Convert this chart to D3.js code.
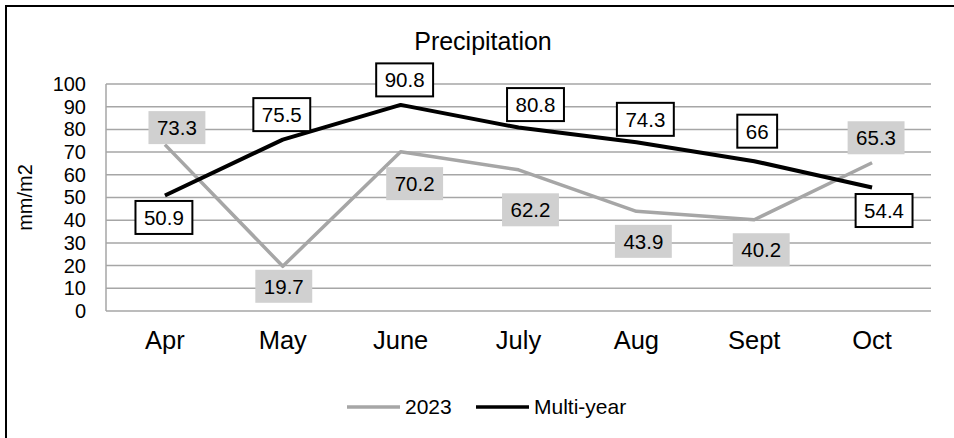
<!DOCTYPE html>
<html>
<head>
<meta charset="utf-8">
<script src="https://cdn.jsdelivr.net/npm/d3@7"></script>
<style>
  html, body { margin: 0; padding: 0; background: #fff; }
  svg { display: block; font-family: "Liberation Sans", Arial, sans-serif; }
</style>
</head>
<body>
<svg id="chart" width="954" height="438"></svg>
<script>
// Monthly precipitation, mm/m2
const months = ["Apr", "May", "June", "July", "Aug", "Sept", "Oct"];
const values2023 = [73.3, 19.7, 70.2, 62.2, 43.9, 40.2, 65.3];
const valuesMultiYear = [50.9, 75.5, 90.8, 80.8, 74.3, 66, 54.4];
const yTicks = [0, 10, 20, 30, 40, 50, 60, 70, 80, 90, 100];
const seriesNames = ["2023", "Multi-year"];

// Label placement (box centre offset from its point, in px)
const nudge2023 = [[12, -17], [1, 20], [14, 32], [12, 40], [7, 30], [7, 30], [4, -25]];
const nudgeMulti = [[-1, 22], [-1, -25], [4, -25], [17, -23], [9, -23], [3, -30], [12, 23]];

const svg = d3.select("#chart");
const plot = { left: 106, right: 931, top: 84, bottom: 311 };

const x = d3.scaleBand().domain(months).range([plot.left, plot.right]);
const y = d3.scaleLinear().domain([0, 100]).range([plot.bottom, plot.top]);
const cx = m => x(m) + x.bandwidth() / 2;

// outer frame (left and top edges)
svg.append("path")
  .attr("d", `M6,438 V6 H954`)
  .attr("fill", "none").attr("stroke", "#000").attr("stroke-width", 2);

// title
svg.append("text").attr("x", 483).attr("y", 50)
  .attr("text-anchor", "middle").attr("font-size", 25).attr("fill", "#000")
  .text("Precipitation");

// gridlines
const grid = svg.append("g");
grid.selectAll("line").data(yTicks).join("line")
  .attr("x1", plot.left).attr("x2", plot.right)
  .attr("y1", d => y(d)).attr("y2", d => y(d))
  .attr("stroke", "#a6a6a6").attr("stroke-width", 1.5);
grid.append("line")
  .attr("x1", plot.left).attr("x2", plot.left)
  .attr("y1", y(100)).attr("y2", y(0))
  .attr("stroke", "#a6a6a6").attr("stroke-width", 1.5);

// y axis
const yAxis = svg.append("g").attr("transform", `translate(${plot.left},0)`)
  .call(d3.axisLeft(y).tickValues(yTicks).tickSize(0).tickPadding(20));
yAxis.select(".domain").remove();
yAxis.selectAll("text").attr("font-size", 20).attr("fill", "#000")
  .attr("font-family", "Liberation Sans, Arial, sans-serif");

// x axis
const xAxis = svg.append("g").attr("transform", `translate(0,${plot.bottom})`)
  .call(d3.axisBottom(x).tickSize(0).tickPadding(20));
xAxis.select(".domain").remove();
xAxis.selectAll("text").attr("font-size", 25.5).attr("fill", "#000")
  .attr("font-family", "Liberation Sans, Arial, sans-serif");

// y axis title
svg.append("text")
  .attr("transform", `translate(32,${(plot.top + plot.bottom) / 2}) rotate(-90)`)
  .attr("text-anchor", "middle").attr("font-size", 20).attr("fill", "#000")
  .text("mm/m2");

// lines
const line = d3.line().x((d, i) => cx(months[i])).y(d => y(d));
svg.append("path").datum(values2023).attr("d", line)
  .attr("fill", "none").attr("stroke", "#a6a6a6").attr("stroke-width", 3.5)
  .attr("stroke-linejoin", "round");
svg.append("path").datum(valuesMultiYear).attr("d", line)
  .attr("fill", "none").attr("stroke", "#000").attr("stroke-width", 4)
  .attr("stroke-linejoin", "round");

// data labels
function drawLabels(values, nudges, fill, stroke) {
  const g = svg.append("g");
  values.forEach((v, i) => {
    const px = cx(months[i]) + nudges[i][0];
    const py = y(v) + nudges[i][1];
    const t = g.append("text").attr("x", px).attr("y", py)
      .attr("text-anchor", "middle").attr("dominant-baseline", "central")
      .attr("font-size", 20.5).attr("fill", "#000").text(v);
    const w = t.node().getComputedTextLength() + 17;
    const h = 33;
    g.insert("rect", "text")
      .attr("x", px - w / 2).attr("y", py - h / 2)
      .attr("width", w).attr("height", h)
      .attr("fill", fill)
      .attr("stroke", stroke || "none").attr("stroke-width", stroke ? 2 : 0);
  });
}
drawLabels(values2023, nudge2023, "#d0d0d0", null);
drawLabels(valuesMultiYear, nudgeMulti, "#fff", "#000");

// legend
const legend = svg.append("g");
const legendItems = [
  { name: seriesNames[0], color: "#a6a6a6", x: 347 },
  { name: seriesNames[1], color: "#000", x: 476 }
];
legendItems.forEach(it => {
  legend.append("line").attr("x1", it.x).attr("x2", it.x + 53)
    .attr("y1", 407).attr("y2", 407)
    .attr("stroke", it.color).attr("stroke-width", 3.5);
  legend.append("text").attr("x", it.x + 58).attr("y", 414)
    .attr("font-size", 21).attr("fill", "#000").text(it.name);
});
</script>
</body>
</html>
